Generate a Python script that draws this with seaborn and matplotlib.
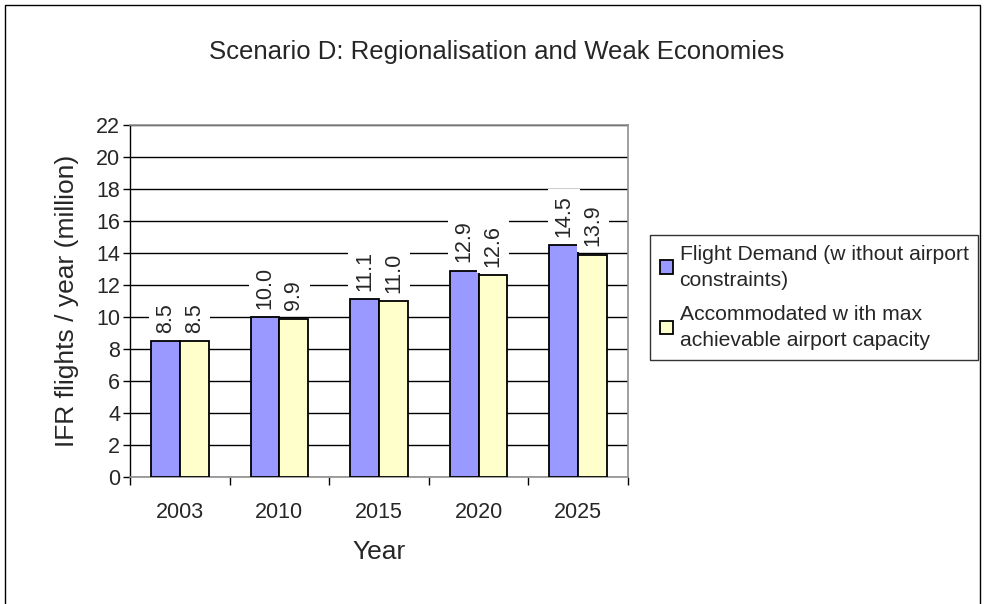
import matplotlib
matplotlib.use('Agg')
import matplotlib.pyplot as plt
import seaborn as sns
import pandas as pd
from matplotlib.patches import Rectangle
from matplotlib.ticker import MultipleLocator

years = ['2003', '2010', '2015', '2020', '2025']
demand = [8.5, 10.0, 11.1, 12.9, 14.5]
accommodated = [8.5, 9.9, 11.0, 12.6, 13.9]
series_names = ['Flight Demand (w ithout airport\nconstraints)',
                'Accommodated w ith max\nachievable airport capacity']
colors = ['#9999FF', '#FFFFCC']

df = pd.DataFrame({'Year': years * 2,
                   'value': demand + accommodated,
                   'series': [series_names[0]] * 5 + [series_names[1]] * 5})

sns.set_theme(style='white')
plt.rcParams['font.family'] = ['Liberation Sans', 'DejaVu Sans']

fig = plt.figure(figsize=(9.84, 6.04), dpi=100)
ax = fig.add_axes([130 / 984, 1 - 477 / 604, 498 / 984, 352 / 604])

sns.barplot(data=df, x='Year', y='value', hue='series', palette=colors,
            width=0.58, gap=0, edgecolor='black', linewidth=1.3,
            saturation=1, ax=ax, zorder=3)

for cont in ax.containers:
    ax.bar_label(cont, fmt='%.1f', rotation=90, padding=6, fontsize=15.5,
                 bbox=dict(facecolor='white', edgecolor='none', pad=4),
                 zorder=4)

ax.set_ylim(0, 22)
ax.set_xlim(-0.5, 4.5)
ax.yaxis.set_major_locator(MultipleLocator(2))
ax.grid(axis='y', color='black', linewidth=1, zorder=0)
ax.set_axisbelow(True)

for s in ['top', 'right', 'bottom']:
    ax.spines[s].set_color('#909090')
    ax.spines[s].set_linewidth(1.2)
ax.spines['left'].set_color('black')
ax.spines['left'].set_linewidth(1)

ax.tick_params(axis='y', which='major', left=True, length=5, width=1,
               color='black', labelsize=15.5, pad=2)
ax.tick_params(axis='x', which='major', bottom=False, labelsize=15.5, pad=12)
ax.set_xticks([-0.5, 0.5, 1.5, 2.5, 3.5, 4.5], minor=True)
ax.tick_params(axis='x', which='minor', bottom=True, length=6, width=1,
               color='black')

ax.set_xlabel('Year', fontsize=19, labelpad=12)
ax.set_ylabel('IFR flights / year (million)', fontsize=19, labelpad=12)

fig.text(497 / 984, 1 - 52 / 604, 'Scenario D: Regionalisation and Weak Economies',
         ha='center', va='center', fontsize=18.5)

leg = ax.legend(loc='upper left', bbox_to_anchor=(650 / 984, 1 - 235 / 604),
                bbox_transform=fig.transFigure, fontsize=15.2, frameon=True,
                fancybox=False, edgecolor='black', handlelength=0.62,
                handleheight=0.62, handletextpad=0.33, borderpad=0.45,
                borderaxespad=0, labelspacing=0.7, title=None)
leg.get_frame().set_linewidth(1)
for t in leg.get_texts():
    t.set_linespacing(1.5)

fig.patches.append(Rectangle((4.5 / 984, -0.05), 975 / 984, 1.05 - 4.5 / 604,
                             transform=fig.transFigure, fill=False,
                             edgecolor='black', linewidth=1))

fig.savefig('out.png', dpi=100)
